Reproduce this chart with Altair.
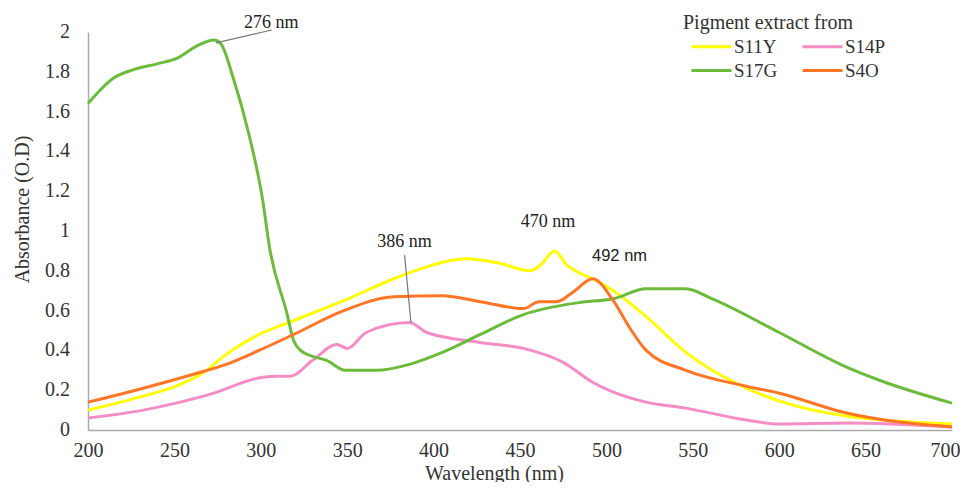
import altair as alt
import pandas as pd

# ---- data ----
s11y_nm = [200, 232, 251, 267, 280, 299, 319, 348, 377, 396, 419, 437, 456, 462, 470, 477, 483, 492, 504, 523, 546, 581, 610, 639, 700]
s11y_od = [0.10, 0.17, 0.22, 0.29, 0.38, 0.48, 0.55, 0.65, 0.76, 0.82, 0.86, 0.84, 0.80, 0.83, 0.90, 0.83, 0.795, 0.76, 0.70, 0.57, 0.39, 0.21, 0.12, 0.07, 0.03]

s14p_nm = [200, 232, 251, 271, 301, 310, 317, 330, 344, 350, 361, 386, 396, 427, 452, 475, 492, 504, 523, 546, 581, 600, 639, 700]
s14p_od = [0.06, 0.10, 0.135, 0.18, 0.265, 0.27, 0.27, 0.35, 0.43, 0.41, 0.49, 0.54, 0.49, 0.44, 0.41, 0.34, 0.24, 0.19, 0.14, 0.11, 0.05, 0.03, 0.035, 0.015]

s17g_nm = [200, 215, 226, 240, 252, 263, 273, 277, 284, 293, 301, 305, 315, 319, 323, 330, 338, 349, 367, 386, 405, 427, 452, 484, 504, 523, 546, 561, 600, 638, 658, 700]
s17g_od = [1.64, 1.77, 1.81, 1.84, 1.87, 1.93, 1.96, 1.94, 1.77, 1.49, 1.16, 0.92, 0.59, 0.45, 0.40, 0.37, 0.35, 0.30, 0.30, 0.33, 0.39, 0.48, 0.58, 0.64, 0.66, 0.71, 0.71, 0.66, 0.49, 0.32, 0.25, 0.135]

s4o_nm = [200, 232, 261, 280, 299, 319, 348, 377, 405, 427, 452, 461, 471, 481, 492, 504, 513, 523, 546, 581, 600, 639, 700]
s4o_od = [0.14, 0.21, 0.28, 0.33, 0.40, 0.48, 0.60, 0.67, 0.675, 0.645, 0.61, 0.645, 0.645, 0.695, 0.76, 0.65, 0.52, 0.40, 0.30, 0.22, 0.185, 0.085, 0.015]

series_names = ["S11Y", "S14P", "S17G", "S4O"]
legend_order = ["S11Y", "S17G", "S14P", "S4O"]
legend_colors = ["#FFFF00", "#6CBB3C", "#F58DC5", "#FF7626"]

x_ticks = [200, 250, 300, 350, 400, 450, 500, 550, 600, 650, 700]
y_ticks = [0, 0.2, 0.4, 0.6, 0.8, 1, 1.2, 1.4, 1.6, 1.8, 2]
y_tick_labels = ["0", "0.2", "0.4", "0.6", "0.8", "1", "1.2", "1.4", "1.6", "1.8", "2"]

# peak annotations (label position and leader line ends)
ann_serif_text = ["276 nm", "386 nm", "470 nm"]
ann_serif_nm = [306.0, 383.2, 466.2]
ann_serif_od = [2.045, 0.946, 1.045]
ann_sans_text = ["492 nm"]
ann_sans_nm = [507.6]
ann_sans_od = [0.876]
lead_nm1 = [274.0, 386.9]
lead_od1 = [1.945, 0.538]
lead_nm2 = [306.3, 383.2]
lead_od2 = [2.01, 0.879]

# ---- tables ----
rows = []
for name, xs, ys in zip(series_names, [s11y_nm, s14p_nm, s17g_nm, s4o_nm], [s11y_od, s14p_od, s17g_od, s4o_od]):
    for a, b in zip(xs, ys):
        rows.append({"series": name, "nm": a, "od": b})
df = pd.DataFrame(rows)
ann1 = pd.DataFrame({"t": ann_serif_text, "nm": ann_serif_nm, "od": ann_serif_od})
ann2 = pd.DataFrame({"t": ann_sans_text, "nm": ann_sans_nm, "od": ann_sans_od})
lead = pd.DataFrame({"nm": lead_nm1, "od": lead_od1, "nm2": lead_nm2, "od2": lead_od2})
ytk = pd.DataFrame({"od": y_ticks, "lab": y_tick_labels})

SERIF = "Liberation Serif"
xscale = alt.Scale(domain=[200, 700], nice=False, zero=False)
yscale = alt.Scale(domain=[0, 2], nice=False)

x_enc = alt.X("nm:Q", scale=xscale, axis=alt.Axis(
    values=x_ticks, labelExpr="format(datum.value, 'd')", title="Wavelength (nm)",
    titleX=406, titleY=43,
    labelAlign={"condition": {"test": "datum.value >= 700", "value": "right"}, "value": "center"},
    labelOffset={"condition": {"test": "datum.value >= 700", "value": 8}, "value": 0}))
y_enc = alt.Y("od:Q", scale=yscale, axis=alt.Axis(
    values=y_ticks, labels=False, title="Absorbance (O.D)",
    titleX=-66, titleY=177))

lines = alt.Chart(df).mark_line(interpolate="monotone", strokeWidth=3).encode(
    x=x_enc, y=y_enc,
    color=alt.Color("series:N", scale=alt.Scale(domain=legend_order, range=legend_colors),
                    legend=alt.Legend(title="Pigment extract from", orient="none",
                                      legendX=595, legendY=-19, columns=2,
                                      symbolType="M-4,0L4,0", symbolSize=100, symbolStrokeWidth=3,
                                      symbolOffset=19, labelOffset=13,
                                      columnPadding=16, rowPadding=4, titlePadding=4)),
    order=alt.Order("nm:Q"),
)

ylabels = alt.Chart(ytk).mark_text(font=SERIF, fontSize=20, color="#333333",
                                   align="right", baseline="middle", dx=-18).encode(
    x=alt.value(0), y=alt.Y("od:Q"), text="lab:N")

leaders = alt.Chart(lead).mark_rule(color="#777777", strokeWidth=1.2).encode(
    x=alt.X("nm:Q"), y=alt.Y("od:Q"), x2="nm2:Q", y2="od2:Q")

t1 = alt.Chart(ann1).mark_text(font=SERIF, fontSize=18, color="#222222").encode(
    x=alt.X("nm:Q"), y=alt.Y("od:Q"), text="t:N")
t2 = alt.Chart(ann2).mark_text(font="Liberation Sans", fontSize=16.5, color="#222222").encode(
    x=alt.X("nm:Q"), y=alt.Y("od:Q"), text="t:N")

chart = alt.layer(lines, leaders, t1, t2, ylabels).properties(
    width=864, height=398,
    autosize=alt.AutoSizeParams(type="none"),
    padding={"left": 80, "top": 24, "right": 8, "bottom": 52},
).configure(
    background="white", font=SERIF
).configure_view(
    stroke=None
).configure_axis(
    grid=False, ticks=False, labelFont=SERIF, labelFontSize=20, labelColor="#333333",
    labelOverlap=False, labelFlush=False, domainColor="#AAAAAA", domainWidth=1.5,
    titleFont=SERIF, titleFontSize=20, titleFontWeight="normal", titleColor="#333333",
    titleAlign="center", titleBaseline="middle"
).configure_axisX(
    labelPadding=10
).configure_legend(
    labelFont=SERIF, labelFontSize=19, labelColor="#333333",
    titleFont=SERIF, titleFontSize=20, titleFontWeight="normal", titleColor="#333333"
)

chart.save("out.html", embed_options={"renderer": "svg", "actions": False})
